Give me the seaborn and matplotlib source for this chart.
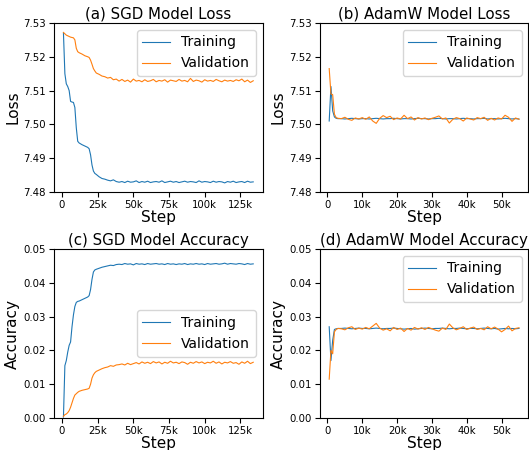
import numpy as np
import pandas as pd
import seaborn as sns
import matplotlib
matplotlib.use("Agg")
import matplotlib.pyplot as plt
from matplotlib.ticker import FuncFormatter

# ---- SGD run (steps in thousands) ----
sgd_steps_k = [1, 2, 3, 4, 5, 6, 7, 8, 9, 10, 11, 12, 14, 16, 18, 19, 20, 21, 22, 23,
               24, 26, 28, 30, 32, 34, 36, 38, 40,
               42, 44, 46, 48, 50, 52, 54, 56, 58, 60, 62, 64, 66, 68, 70, 72, 74, 76,
               78, 80, 82, 84, 86, 88, 90, 92, 94, 96, 98, 100, 102, 104, 106, 108, 110,
               112, 114, 116, 118, 120, 122, 124, 126, 128, 130, 132, 134]

sgd_train_loss = [7.5270, 7.5150, 7.5120, 7.5112, 7.5100, 7.5068, 7.5066, 7.5065, 7.5050, 7.4990,
                  7.4950, 7.4945, 7.4940, 7.4936, 7.4932, 7.4928, 7.4910, 7.4880, 7.4862, 7.4855,
                  7.4852, 7.4845, 7.4840, 7.4838, 7.4835, 7.4833, 7.4836, 7.4831, 7.4829,
                  7.4831, 7.4828, 7.4832, 7.4829, 7.4830, 7.4833, 7.4828, 7.4831, 7.4829, 7.4832,
                  7.4828, 7.4830, 7.4831, 7.4829, 7.4833, 7.4828, 7.4830, 7.4832, 7.4829, 7.4831,
                  7.4828, 7.4830, 7.4832, 7.4829, 7.4831, 7.4830, 7.4828, 7.4833, 7.4829, 7.4831,
                  7.4830, 7.4828, 7.4832, 7.4829, 7.4831, 7.4830, 7.4827, 7.4831, 7.4829, 7.4832,
                  7.4828, 7.4830, 7.4831, 7.4828, 7.4832, 7.4829, 7.4830]

sgd_val_loss = [7.5272, 7.5268, 7.5264, 7.5262, 7.5260, 7.5258, 7.5257, 7.5256, 7.5250, 7.5225,
                7.5215, 7.5212, 7.5208, 7.5203, 7.5200, 7.5198, 7.5190, 7.5178, 7.5165, 7.5158,
                7.5152, 7.5148, 7.5143, 7.5141, 7.5137, 7.5139, 7.5132, 7.5134, 7.5128,
                7.5133, 7.5127, 7.5131, 7.5125, 7.5134, 7.5128, 7.5130, 7.5126, 7.5132, 7.5127,
                7.5129, 7.5133, 7.5126, 7.5130, 7.5128, 7.5132, 7.5125, 7.5131, 7.5129, 7.5127,
                7.5133, 7.5128, 7.5130, 7.5126, 7.5136, 7.5127, 7.5131, 7.5129, 7.5125, 7.5132,
                7.5128, 7.5130, 7.5127, 7.5133, 7.5129, 7.5126, 7.5131, 7.5128, 7.5130, 7.5127,
                7.5132, 7.5129, 7.5134, 7.5126, 7.5131, 7.5124, 7.5129]

sgd_train_acc = [0.0003, 0.0155, 0.0170, 0.0195, 0.0215, 0.0225, 0.0270, 0.0305, 0.0330, 0.0342,
                 0.0345, 0.0346, 0.0350, 0.0354, 0.0358, 0.0362, 0.0380, 0.0410, 0.0432, 0.0438,
                 0.0440, 0.0443, 0.0446, 0.0448, 0.0450, 0.0452, 0.0451, 0.0454, 0.0455,
                 0.0454, 0.0457, 0.0455, 0.0456, 0.0453, 0.0457, 0.0455, 0.0456, 0.0454, 0.0457,
                 0.0455, 0.0456, 0.0457, 0.0455, 0.0456, 0.0454, 0.0457, 0.0455, 0.0456, 0.0454,
                 0.0456, 0.0455, 0.0457, 0.0454, 0.0456, 0.0455, 0.0457, 0.0455, 0.0456, 0.0454,
                 0.0457, 0.0455, 0.0456, 0.0457, 0.0455, 0.0456, 0.0458, 0.0455, 0.0457, 0.0456,
                 0.0455, 0.0457, 0.0456, 0.0454, 0.0457, 0.0455, 0.0456]

sgd_val_acc = [0.0005, 0.0010, 0.0012, 0.0016, 0.0022, 0.0032, 0.0045, 0.0058, 0.0068, 0.0072,
               0.0076, 0.0079, 0.0082, 0.0084, 0.0086, 0.0088, 0.0100, 0.0118, 0.0128, 0.0134,
               0.0138, 0.0142, 0.0146, 0.0149, 0.0151, 0.0155, 0.0153, 0.0157, 0.0158,
               0.0160, 0.0157, 0.0162, 0.0158, 0.0161, 0.0164, 0.0160, 0.0166, 0.0162, 0.0165,
               0.0161, 0.0167, 0.0163, 0.0166, 0.0160, 0.0165, 0.0162, 0.0168, 0.0163, 0.0165,
               0.0161, 0.0166, 0.0164, 0.0159, 0.0165, 0.0162, 0.0167, 0.0163, 0.0166, 0.0161,
               0.0165, 0.0163, 0.0168, 0.0162, 0.0166, 0.0160, 0.0165, 0.0163, 0.0167, 0.0162,
               0.0164, 0.0159, 0.0166, 0.0162, 0.0168, 0.0161, 0.0165]

# ---- AdamW run (steps in thousands) ----
adam_steps_k = [0.5, 1, 1.5, 2, 2.5, 3,
                4, 5, 6, 7, 8, 9, 10, 11, 12, 13, 14, 15, 16, 17, 18, 19, 20, 21, 22, 23,
                24, 25, 26, 27, 28, 29, 30, 31, 32, 33, 34, 35, 36, 37, 38, 39, 40, 41, 42,
                43, 44, 45, 46, 47, 48, 49, 50, 51, 52, 53, 54, 55]

adam_train_loss = [7.5010, 7.5112, 7.5040, 7.5022, 7.5018, 7.5017,
                   7.5017, 7.5016, 7.5017, 7.5018, 7.5017, 7.5016, 7.5017, 7.5017, 7.5016, 7.5017,
                   7.5018, 7.5017, 7.5016, 7.5017, 7.5017, 7.5018, 7.5017, 7.5016, 7.5017, 7.5017,
                   7.5016, 7.5017, 7.5018, 7.5017, 7.5017, 7.5016, 7.5017, 7.5017, 7.5018, 7.5017,
                   7.5016, 7.5017, 7.5017, 7.5016, 7.5017, 7.5018, 7.5017, 7.5017, 7.5016, 7.5017,
                   7.5017, 7.5018, 7.5016, 7.5017, 7.5017, 7.5016, 7.5017, 7.5018, 7.5017, 7.5016,
                   7.5017, 7.5016]

adam_val_loss = [7.5165, 7.5090, 7.5088, 7.5030, 7.5020, 7.5018,
                 7.5017, 7.5021, 7.5015, 7.5012, 7.5019, 7.5016, 7.5020, 7.5015, 7.5022, 7.5010,
                 7.5003, 7.5018, 7.5026, 7.5020, 7.5024, 7.5014, 7.5019, 7.5016, 7.5027, 7.5017,
                 7.5022, 7.5013, 7.5020, 7.5016, 7.5019, 7.5014, 7.5018, 7.5021, 7.5025, 7.5016,
                 7.5019, 7.5004, 7.5015, 7.5020, 7.5017, 7.5010, 7.5019, 7.5016, 7.5013, 7.5020,
                 7.5017, 7.5021, 7.5012, 7.5018, 7.5013, 7.5019, 7.5016, 7.5027, 7.5021, 7.5009,
                 7.5019, 7.5015]

adam_train_acc = [0.0270, 0.0170, 0.0230, 0.0262, 0.0264, 0.0265,
                  0.0265, 0.0266, 0.0265, 0.0264, 0.0265, 0.0266, 0.0265, 0.0265, 0.0264, 0.0265,
                  0.0266, 0.0265, 0.0264, 0.0265, 0.0265, 0.0266, 0.0265, 0.0264, 0.0263, 0.0264,
                  0.0265, 0.0263, 0.0264, 0.0265, 0.0266, 0.0265, 0.0264, 0.0265, 0.0265, 0.0266,
                  0.0265, 0.0264, 0.0265, 0.0265, 0.0266, 0.0265, 0.0264, 0.0265, 0.0265, 0.0264,
                  0.0265, 0.0266, 0.0265, 0.0264, 0.0265, 0.0263, 0.0264, 0.0265, 0.0264, 0.0265,
                  0.0264, 0.0265]

adam_val_acc = [0.0115, 0.0200, 0.0190, 0.0255, 0.0262, 0.0265,
                0.0264, 0.0261, 0.0267, 0.0270, 0.0262, 0.0266, 0.0263, 0.0268, 0.0264, 0.0272,
                0.0280, 0.0266, 0.0260, 0.0264, 0.0258, 0.0268, 0.0262, 0.0266, 0.0256, 0.0265,
                0.0260, 0.0268, 0.0263, 0.0267, 0.0262, 0.0268, 0.0264, 0.0260, 0.0257, 0.0266,
                0.0262, 0.0278, 0.0267, 0.0261, 0.0265, 0.0270, 0.0262, 0.0266, 0.0269, 0.0262,
                0.0265, 0.0261, 0.0270, 0.0264, 0.0269, 0.0263, 0.0255, 0.0262, 0.0272, 0.0258,
                0.0265, 0.0267]

sgd_steps = np.array(sgd_steps_k) * 1000
adam_steps = np.array(adam_steps_k) * 1000


def k_fmt(x, pos):
    return "0" if x == 0 else f"{int(round(x / 1000))}k"


fig, axes = plt.subplots(2, 2, figsize=(5.29, 4.5), dpi=100)
plt.subplots_adjust(left=0.102, right=0.999, top=0.949, bottom=0.071, hspace=0.337, wspace=0.273)

panels = [
    (axes[0, 0], sgd_steps, sgd_train_loss, sgd_val_loss, "(a) SGD Model Loss", "Loss", "upper right"),
    (axes[0, 1], adam_steps, adam_train_loss, adam_val_loss, "(b) AdamW Model Loss", "Loss", "upper right"),
    (axes[1, 0], sgd_steps, sgd_train_acc, sgd_val_acc, "(c) SGD Model Accuracy", "Accuracy", "center right"),
    (axes[1, 1], adam_steps, adam_train_acc, adam_val_acc, "(d) AdamW Model Accuracy", "Accuracy", "upper right"),
]

for ax, steps, tr, va, title, ylab, loc in panels:
    sns.lineplot(x=steps, y=tr, ax=ax, label="Training", color="C0", linewidth=0.8)
    sns.lineplot(x=steps, y=va, ax=ax, label="Validation", color="C1", linewidth=0.8)
    ax.set_title(title, fontsize=10.8, pad=3)
    ax.set_xlabel("Step", fontsize=11, labelpad=0)
    ax.set_ylabel(ylab, fontsize=11, labelpad=2)
    ax.xaxis.set_major_formatter(FuncFormatter(k_fmt))
    ax.tick_params(labelsize=7.3, pad=2.5)
    ax.legend(loc=loc, fontsize=10)

for ax in axes[0]:
    ax.set_ylim(7.48, 7.53)
    ax.set_yticks([7.48, 7.49, 7.50, 7.51, 7.52, 7.53])
    ax.yaxis.set_major_formatter(FuncFormatter(lambda v, p: f"{v:.2f}"))
for ax in axes[1]:
    ax.set_ylim(0, 0.05)
    ax.set_yticks([0.00, 0.01, 0.02, 0.03, 0.04, 0.05])
    ax.yaxis.set_major_formatter(FuncFormatter(lambda v, p: f"{v:.2f}"))

axes[0, 0].set_xticks([0, 25000, 50000, 75000, 100000, 125000])
axes[1, 0].set_xticks([0, 25000, 50000, 75000, 100000, 125000])
axes[0, 1].set_xticks([0, 10000, 20000, 30000, 40000, 50000])
axes[1, 1].set_xticks([0, 10000, 20000, 30000, 40000, 50000])

plt.savefig("out.png", dpi=100)
